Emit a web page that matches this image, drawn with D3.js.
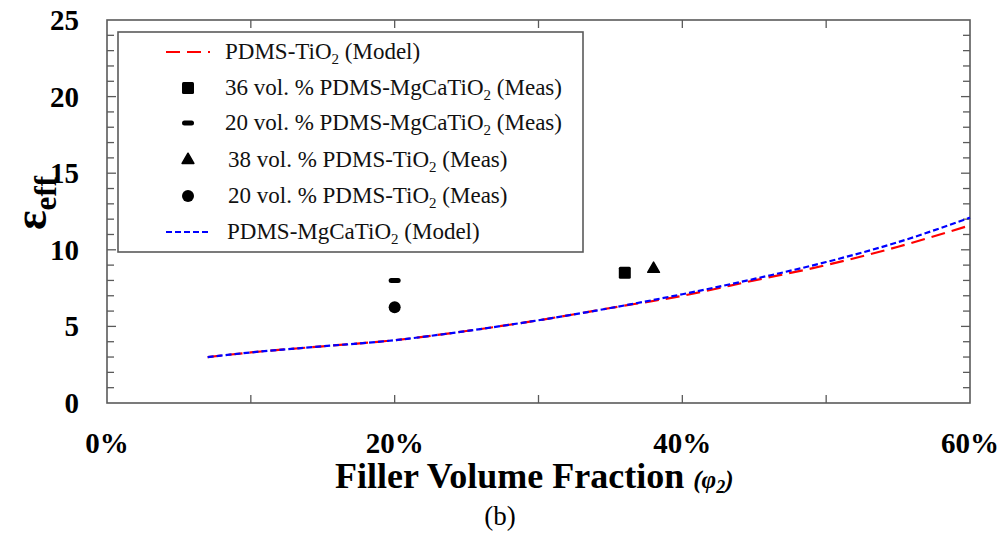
<!DOCTYPE html>
<html>
<head>
    <meta charset='utf-8'>
    <script src='https://cdn.jsdelivr.net/npm/d3@7'></script>
    <style>
        body { margin: 0; background: #fff; }
        text { font-family: 'Liberation Serif', 'Times New Roman', serif; }
    </style>
</head>
<body>
    <svg width='1004' height='538'></svg>
    <script>
        // model curves, filler fraction in %
        const phi = [7, 10, 15, 20, 25, 30, 35, 40, 45, 50, 55, 60]
        const tio2Model = [3.0, 3.3, 3.7, 4.1, 4.7, 5.4, 6.2, 7.0, 8.0, 9.0, 10.2, 11.6]
        const mgcaModel = [3.0, 3.3, 3.7, 4.1, 4.7, 5.4, 6.2, 7.1, 8.1, 9.2, 10.5, 12.1]

        // measured points
        const measNames = ['36 vol. % PDMS-MgCaTiO', '20 vol. % PDMS-MgCaTiO', '38 vol. % PDMS-TiO', '20 vol. % PDMS-TiO']
        const measX = [36, 20, 38, 20]
        const measY = [8.5, 8.0, 8.75, 6.25]
        const measShape = ['square', 'dash', 'triangle', 'circle']

        const xTicks = [0, 20, 40, 60]
        const yTicks = [0, 5, 10, 15, 20, 25]

        const svg = d3.select('svg')
        const margin = { top: 20, left: 107, bottom: 135, right: 34 }
        const width = 1004 - margin.left - margin.right
        const height = 538 - margin.top - margin.bottom

        const x = d3.scaleLinear().domain([0, 60]).range([margin.left, margin.left + width])
        const y = d3.scaleLinear().domain([0, 25]).range([margin.top + height, margin.top])

        const frameColor = '#5a5a5a'
        const g = svg.append('g')

        // frame
        g.append('rect')
            .attr('x', x(0)).attr('y', y(25))
            .attr('width', x(60) - x(0)).attr('height', y(0) - y(25))
            .attr('fill', 'none').attr('stroke', frameColor).attr('stroke-width', 1.6)

        // inward ticks on all sides
        const xMinor = d3.range(10, 60, 10)
        const yMinor = d3.range(1, 25, 1)
        g.selectAll('.xt').data(xMinor).join('line')
            .attr('x1', d => x(d)).attr('x2', d => x(d))
            .attr('y1', y(0)).attr('y2', y(0) - 8)
            .attr('stroke', frameColor).attr('stroke-width', 1.3)
        g.selectAll('.xtt').data(xMinor).join('line')
            .attr('x1', d => x(d)).attr('x2', d => x(d))
            .attr('y1', y(25)).attr('y2', y(25) + 8)
            .attr('stroke', frameColor).attr('stroke-width', 1.3)
        g.selectAll('.yl').data(yMinor).join('line')
            .attr('x1', x(0)).attr('x2', d => x(0) + (d % 5 === 0 ? 9 : 7))
            .attr('y1', d => y(d)).attr('y2', d => y(d))
            .attr('stroke', frameColor).attr('stroke-width', 1.3)
        g.selectAll('.yr').data(yMinor).join('line')
            .attr('x1', x(60)).attr('x2', d => x(60) - (d % 5 === 0 ? 9 : 7))
            .attr('y1', d => y(d)).attr('y2', d => y(d))
            .attr('stroke', frameColor).attr('stroke-width', 1.3)

        // tick labels
        g.selectAll('.xl').data(xTicks).join('text')
            .attr('x', d => x(d)).attr('y', 453)
            .attr('text-anchor', 'middle')
            .attr('font-size', 29).attr('font-weight', 'bold')
            .text(d => d + '%')
        g.selectAll('.ylab').data(yTicks).join('text')
            .attr('x', 79).attr('y', d => y(d) + 10)
            .attr('text-anchor', 'end')
            .attr('font-size', 29).attr('font-weight', 'bold')
            .text(d => d)

        // axis titles
        const xt = g.append('text').attr('x', 335).attr('y', 488)
            .attr('font-size', 36).attr('font-weight', 'bold')
        xt.append('tspan').text('Filler Volume Fraction ')
        xt.append('tspan').attr('font-size', 25).attr('font-style', 'italic').text('(φ')
        xt.append('tspan').attr('font-size', 18).attr('font-style', 'italic').attr('dy', 5).text('2')
        xt.append('tspan').attr('font-size', 25).attr('font-style', 'italic').attr('dy', -5).text(')')

        const yt = g.append('text')
            .attr('transform', 'translate(46,203) rotate(-90)')
            .attr('text-anchor', 'middle').attr('font-weight', 'bold')
        yt.append('tspan').attr('font-size', 46).text('ε')
        yt.append('tspan').attr('font-size', 31).attr('dy', 10).text('eff')

        g.append('text').attr('x', 500).attr('y', 525)
            .attr('text-anchor', 'middle').attr('font-size', 27).text('(b)')

        // model lines
        const line = d3.line().x(d => x(d[0])).y(d => y(d[1])).curve(d3.curveMonotoneX)
        g.append('path').datum(phi.map((p, i) => [p, tio2Model[i]]))
            .attr('d', line).attr('fill', 'none')
            .attr('stroke', '#ff0000').attr('stroke-width', 2.2).attr('stroke-dasharray', '14,7')
        g.append('path').datum(phi.map((p, i) => [p, mgcaModel[i]]))
            .attr('d', line).attr('fill', 'none')
            .attr('stroke', '#0000ff').attr('stroke-width', 2.2).attr('stroke-dasharray', '6,3')

        function drawMarker(sel, shape, cx, cy) {
            if (shape === 'square') {
                sel.append('rect').attr('x', cx - 6).attr('y', cy - 6).attr('width', 12).attr('height', 12)
                    .attr('rx', 1.5).attr('fill', '#000')
            } else if (shape === 'dash') {
                sel.append('rect').attr('x', cx - 6).attr('y', cy - 2.5).attr('width', 12).attr('height', 5)
                    .attr('rx', 2.5).attr('fill', '#000')
            } else if (shape === 'triangle') {
                sel.append('path').attr('d', d3.symbol(d3.symbolTriangle, 60)())
                    .attr('transform', `translate(${cx},${cy})`).attr('fill', '#000')
                    .attr('stroke', '#000').attr('stroke-linejoin', 'round').attr('stroke-width', 1.5)
            } else {
                sel.append('circle').attr('cx', cx).attr('cy', cy).attr('r', 6).attr('fill', '#000')
            }
        }

        measX.forEach((v, i) => drawMarker(g, measShape[i], x(v), y(measY[i])))

        // legend
        const lg = g.append('g')
        lg.append('rect').attr('x', 118).attr('y', 32).attr('width', 465).attr('height', 220)
            .attr('fill', '#fff').attr('stroke', frameColor).attr('stroke-width', 1.6)

        const legendItems = [
            { kind: 'line', color: '#ff0000', dash: '14,7', label: 'PDMS-TiO', tail: ' (Model)', ty: 52, tx: 225 },
            { kind: 'pt', shape: measShape[0], label: measNames[0], tail: ' (Meas)', ty: 88, tx: 225 },
            { kind: 'pt', shape: measShape[1], label: measNames[1], tail: ' (Meas)', ty: 123, tx: 225 },
            { kind: 'pt', shape: measShape[2], label: measNames[2], tail: ' (Meas)', ty: 160, tx: 228 },
            { kind: 'pt', shape: measShape[3], label: measNames[3], tail: ' (Meas)', ty: 196, tx: 228 },
            { kind: 'line', color: '#0000ff', dash: '6,3', label: 'PDMS-MgCaTiO', tail: ' (Model)', ty: 232, tx: 227 }
        ]
        legendItems.forEach(it => {
            if (it.kind === 'line') {
                lg.append('line').attr('x1', 166).attr('x2', 210).attr('y1', it.ty).attr('y2', it.ty)
                    .attr('stroke', it.color).attr('stroke-width', 2.2).attr('stroke-dasharray', it.dash)
            } else {
                drawMarker(lg, it.shape, 188, it.ty)
            }
            const t = lg.append('text').attr('x', it.tx).attr('y', it.ty + 7)
                .attr('font-size', 23).attr('fill', '#111')
            t.append('tspan').text(it.label)
            t.append('tspan').attr('font-size', 15).attr('dy', 5).text('2')
            t.append('tspan').attr('dy', -5).text(it.tail)
        })
    </script>
</body>
</html>
